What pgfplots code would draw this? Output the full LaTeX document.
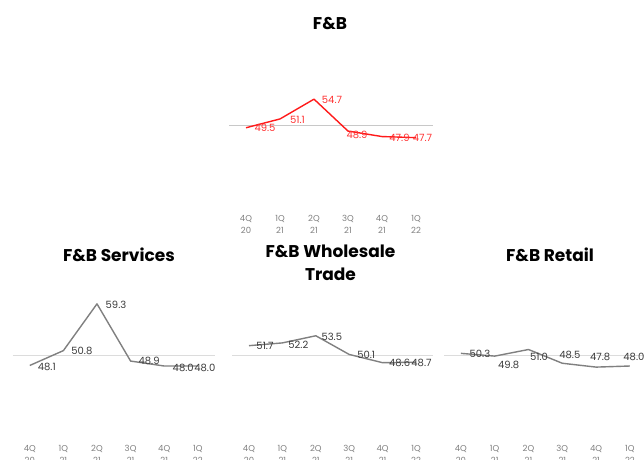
\documentclass[border=0pt]{standalone}
\usepackage{pgfplots}
\pgfplotsset{compat=1.18}
\usepackage{fontspec}
\setmainfont{Poppins}
\definecolor{fbred}{HTML}{FF1A1A}
\definecolor{labred}{HTML}{FF3030}
\definecolor{linegray}{HTML}{808080}
\definecolor{labgray}{HTML}{3A3A3A}
\definecolor{tickgray}{HTML}{7F7F7F}
\definecolor{refgray}{HTML}{C8C8C8}
\definecolor{refgrayb}{HTML}{DCDCDC}

\pgfplotsset{panel/.style={
  scale only axis, height=137.5pt,
  xmin=-0.5, xmax=5.5, ymin=35, ymax=60,
  axis line style={draw=none},
  ytick=\empty, xtick={0,1,2,3,4,5},
  xticklabels={{4Q\\20},{1Q\\21},{2Q\\21},{3Q\\21},{4Q\\21},{1Q\\22}},
  major tick length=0pt,
  xticklabel style={font=\fontsize{8.5}{11.5}\selectfont, text=tickgray, align=center, anchor=north, yshift=-4.5pt},
  clip=false,
},
series/.style={
  line width=1.4pt, mark=none, line join=round,
  nodes near coords={\pgfmathprintnumber[fixed,fixed zerofill,precision=1,assume math mode=true]{\pgfplotspointmeta}},
  point meta=\thisrow{y},
  visualization depends on={\thisrow{dx} \as \dx},
  visualization depends on={\thisrow{dy} \as \dy},
  every node near coord/.append style={anchor=center, inner sep=0pt, font=\fontsize{10}{12}\selectfont, xshift=\dx pt, yshift=-\dy pt},
}}

\begin{document}
\begin{tikzpicture}
\useasboundingbox (0,0) rectangle (644pt,459pt);

% ---------------- Top: F&B ----------------
\begin{axis}[panel, at={(229pt,251.5pt)}, anchor=south west, width=204pt]
\addplot[refgray, line width=0.9pt, forget plot] coordinates {(-0.5,50) (5.5,50)};
\addplot[series, fbred, every node near coord/.append style={text=labred}] table {
x y dx dy
0 49.5 19 0.5
1 51.1 17.5 1
2 54.7 18 1
3 48.9 9 4
4 47.9 17.5 1
5 47.7 6.5 0.5
};
\end{axis}
\node[font=\bfseries\fontsize{17}{20}\selectfont] at (330pt,435.5pt) {F\&B};

% ---------------- Bottom left: F&B Services ----------------
\begin{axis}[panel, at={(13pt,21.5pt)}, anchor=south west, width=201.6pt]
\addplot[refgrayb, line width=0.9pt, forget plot] coordinates {(-0.5,50) (5.5,50)};
\addplot[series, linegray, every node near coord/.append style={text=labgray}] table {
x y dx dy
0 48.1 17 1.5
1 50.8 18.5 0.5
2 59.3 19 1
3 48.9 18.5 0
4 48.0 19 1.5
5 48.0 7 1.5
};
\end{axis}
\node[font=\bfseries\fontsize{17}{20}\selectfont] at (119pt,204pt) {F\&B Services};

% ---------------- Bottom middle: F&B Wholesale Trade ----------------
\begin{axis}[panel, at={(232.3pt,21.5pt)}, anchor=south west, width=200.4pt]
\addplot[refgrayb, line width=0.9pt, forget plot] coordinates {(-0.5,50) (5.5,50)};
\addplot[series, linegray, every node near coord/.append style={text=labgray}] table {
x y dx dy
0 51.7 16 0.5
1 52.2 16 1.5
2 53.5 16 1
3 50.1 17 0.5
4 48.6 17 0.5
5 48.7 5.5 1
};
\end{axis}
\node[font=\bfseries\fontsize{17}{22.6}\selectfont, align=center] at (330.5pt,196pt) {F\&B Wholesale\\Trade};

% ---------------- Bottom right: F&B Retail ----------------
\begin{axis}[panel, at={(444pt,21.5pt)}, anchor=south west, width=202.8pt]
\addplot[refgrayb, line width=0.9pt, forget plot] coordinates {(-0.5,50) (5.5,50)};
\addplot[series, linegray, every node near coord/.append style={text=labgray}] table {
x y dx dy
0 50.3 19 0.5
1 49.8 14 9
2 51.0 10.5 7.5
3 48.5 7.5 -8
4 47.8 4 -10
5 48.0 4 -9
};
\end{axis}
\node[font=\bfseries\fontsize{17}{20}\selectfont] at (550pt,204pt) {F\&B Retail};
\end{tikzpicture}
\end{document}
